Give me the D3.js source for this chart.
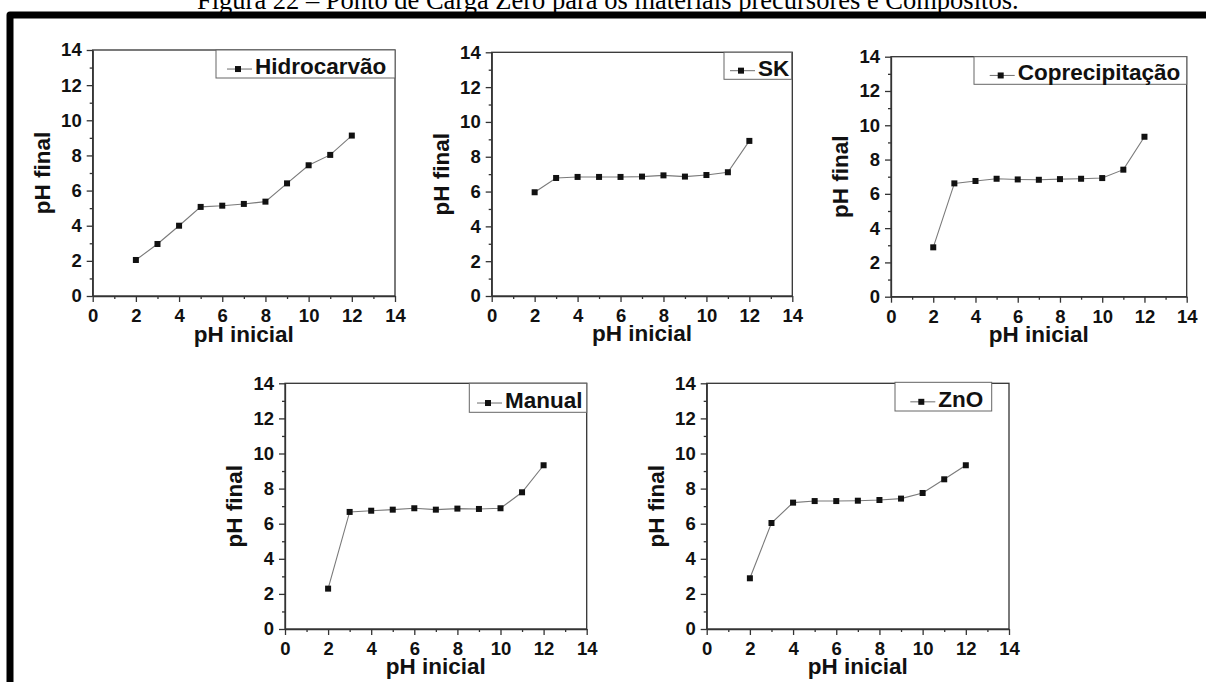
<!doctype html>
<html lang="pt">
<head>
<meta charset="UTF-8">
<script src="https://d3js.org/d3.v7.min.js"></script>
<style>
body { margin: 0; background: #fff; }
svg { display: block; }
.axis .tick text { font: bold 18.5px "Liberation Sans", Arial, sans-serif; fill: #111; }
.axis path, .axis line { stroke: #333; stroke-width: 1.3px; }
.frame { fill: none; stroke: #333; stroke-width: 1.3px; }
.axis-title { font: bold 22.5px "Liberation Sans", Arial, sans-serif; fill: #111; }
.legend text { font: bold 22.5px "Liberation Sans", Arial, sans-serif; fill: #111; }
.legend rect.box { fill: #fff; stroke: #666; stroke-width: 1px; }
.serie { fill: none; stroke: #7a7a7a; stroke-width: 1.1px; }
.marker { fill: #111; }
.titulo { font: 26.5px "Liberation Serif", "Times New Roman", serif; fill: #000; }
</style>
</head>
<body>
<svg id="chart" width="1206" height="682"></svg>
<script>
// valores
var phInicial = [2, 3, 4, 5, 6, 7, 8, 9, 10, 11, 12];
var hidrocarvao = [2.05, 2.96, 4.00, 5.07, 5.14, 5.24, 5.37, 6.41, 7.44, 8.03, 9.13];
var sk = [5.96, 6.78, 6.84, 6.84, 6.84, 6.86, 6.93, 6.86, 6.95, 7.11, 8.91];
var coprecipitacao = [2.88, 6.61, 6.75, 6.88, 6.84, 6.82, 6.86, 6.88, 6.92, 7.41, 9.33];
var manual = [2.30, 6.67, 6.74, 6.80, 6.88, 6.80, 6.86, 6.84, 6.88, 7.79, 9.33];
var zno = [2.89, 6.04, 7.20, 7.29, 7.29, 7.31, 7.35, 7.43, 7.75, 8.53, 9.33];

var seriesNames = ["Hidrocarvão", "SK", "Coprecipitação", "Manual", "ZnO"];
var seriesValues = [hidrocarvao, sk, coprecipitacao, manual, zno];
var majorTicks = [0, 2, 4, 6, 8, 10, 12, 14];
var minorTicks = [1, 3, 5, 7, 9, 11, 13];
var xLabel = "pH inicial";
var yLabel = "pH final";
var titulo = "Figura 22 – Ponto de Carga Zero para os materiais precursores e Compósitos.";

// posicao de cada painel na pagina (px)
var layout = [
  {x0: 92.7,  y0: 50,    w: 302.3, h: 246,   legL: 216,   legR: 395,    legT: 50,    legH: 28,   textX: 255},
  {x0: 491.7, y0: 52.3,  w: 300.6, h: 243.7, legL: 724,   legR: 791.7,  legT: 52.3,  legH: 27,   textX: 758},
  {x0: 891,   y0: 56.7,  w: 295.7, h: 240,   legL: 974,   legR: 1186.7, legT: 56.7,  legH: 27.6, textX: 1017.7},
  {x0: 285,   y0: 383.3, w: 301.7, h: 245.7, legL: 469.3, legR: 586.7,  legT: 383.3, legH: 29,   textX: 505},
  {x0: 706.7, y0: 383.3, w: 302.3, h: 245.7, legL: 895,   legR: 991.7,  legT: 382.3, legH: 28.7, textX: 938.3}
];

var svg = d3.select("#chart");

// moldura preta e titulo
svg.append("path")
  .attr("d", "M10,682 L10,15 L1206,15")
  .attr("fill", "none")
  .attr("stroke", "#000")
  .attr("stroke-width", 7)
  .attr("stroke-linejoin", "round");

svg.append("text")
  .attr("class", "titulo")
  .attr("x", 197)
  .attr("y", 8.5)
  .text(titulo);

seriesNames.forEach(function(name, k) {
  var L = layout[k];
  var values = seriesValues[k];
  var pts = phInicial.map(function(d, i) { return [d, values[i]]; });

  var x = d3.scaleLinear().domain([0, 14]).range([0, L.w]);
  var y = d3.scaleLinear().domain([0, 14]).range([L.h, 0]);

  var g = svg.append("g").attr("transform", "translate(" + L.x0 + "," + L.y0 + ")");

  g.append("rect").attr("class", "frame")
    .attr("width", L.w).attr("height", L.h);

  g.append("g").attr("class", "axis")
    .attr("transform", "translate(0," + L.h + ")")
    .call(d3.axisBottom(x).tickValues(majorTicks).tickSizeInner(6).tickSizeOuter(0)
      .tickPadding(7).tickFormat(d3.format("d")));
  g.append("g").attr("class", "axis minor")
    .attr("transform", "translate(0," + L.h + ")")
    .call(d3.axisBottom(x).tickValues(minorTicks).tickSize(3).tickFormat(""))
    .select(".domain").remove();

  g.append("g").attr("class", "axis")
    .call(d3.axisLeft(y).tickValues(majorTicks).tickSizeInner(6).tickSizeOuter(0)
      .tickPadding(5).tickFormat(d3.format("d")));
  g.append("g").attr("class", "axis minor")
    .call(d3.axisLeft(y).tickValues(minorTicks).tickSize(3).tickFormat(""))
    .select(".domain").remove();

  g.append("text").attr("class", "axis-title")
    .attr("text-anchor", "middle")
    .attr("x", L.w / 2)
    .attr("y", L.h + 45.5)
    .text(xLabel);

  g.append("text").attr("class", "axis-title")
    .attr("text-anchor", "middle")
    .attr("transform", "translate(-43," + (L.h / 2) + ") rotate(-90)")
    .text(yLabel);

  var line = d3.line().x(function(d) { return x(d[0]); }).y(function(d) { return y(d[1]); });
  g.append("path").attr("class", "serie").attr("d", line(pts));

  g.selectAll(".marker").data(pts).enter().append("rect")
    .attr("class", "marker")
    .attr("x", function(d) { return x(d[0]) - 3; })
    .attr("y", function(d) { return y(d[1]) - 3; })
    .attr("width", 6).attr("height", 6);

  // legenda
  var leg = svg.append("g").attr("class", "legend");
  var ly = L.legT + L.legH * 0.68;
  leg.append("rect").attr("class", "box")
    .attr("x", L.legL).attr("y", L.legT)
    .attr("width", L.legR - L.legL).attr("height", L.legH);
  leg.append("line")
    .attr("x1", L.textX - 28).attr("x2", L.textX - 3)
    .attr("y1", ly).attr("y2", ly)
    .attr("stroke", "#7a7a7a").attr("stroke-width", 1.1);
  leg.append("rect").attr("class", "marker")
    .attr("x", L.textX - 20).attr("y", ly - 3)
    .attr("width", 6).attr("height", 6);
  leg.append("text")
    .attr("x", L.textX).attr("y", ly + 5)
    .text(name);
});
</script>
</body>
</html>
